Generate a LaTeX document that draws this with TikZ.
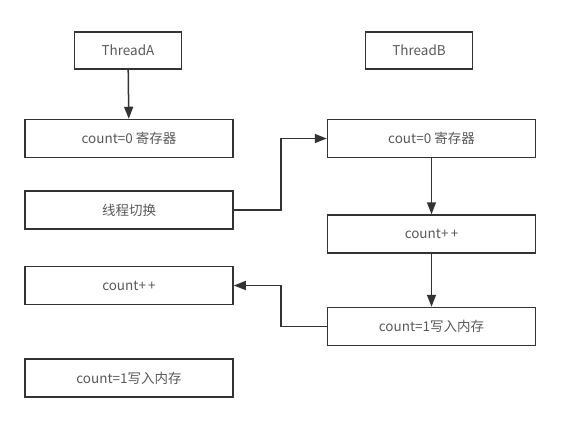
\documentclass[tikz,border=0pt]{standalone}
\usepackage{fontspec}
\setmainfont{Noto Sans CJK SC}
\usetikzlibrary{arrows.meta,positioning}

\begin{document}
\begin{tikzpicture}[x=1pt,y=1pt]

      \tikzstyle{stepbox}=[rectangle,draw=black!80,line width=1.5pt,
        minimum width=208pt,minimum height=38pt,
        text centered,text=black!65,font=\fontsize{13.5}{15}\selectfont]
      \tikzstyle{threadbox}=[stepbox,minimum width=107pt,minimum height=37pt]
      \tikzstyle{flow}=[line width=1.5pt,draw=black!80,
        -{Triangle[length=12pt,width=9pt]}]

      \useasboundingbox (0,0) rectangle (565,-421);

      \node(ThreadA)[threadbox] at (128,-50.5){ThreadA};
      \node(CountA)[stepbox,below =49pt of ThreadA,
        xshift=1pt]{count=0 寄存器};
      \node(SwitchA)[stepbox,below =32pt of CountA]{线程切换};
      \node(IncA)[stepbox,below =36pt of SwitchA]{count+\,+};
      \node(WriteA)[stepbox,below =53pt of IncA]{count=1写入内存};

      \node(CountB)[stepbox,right =93pt of CountA]{cout=0 寄存器};
      \node(ThreadB)[threadbox,above =49pt of CountB,
        xshift=-12.5pt]{ThreadB};
      \node(IncB)[stepbox,below =56pt of CountB]{count+\,+};
      \node(WriteB)[stepbox,below =53pt of IncB]{count=1写入内存};

      \draw [flow]
      (ThreadA)--(CountA);
      \draw [flow]
      (SwitchA.east)--++(47,0)|-(CountB.west);
      \draw [flow]
      (CountB)--(IncB);
      \draw [flow]
      (IncB)--(WriteB);
      \draw [flow]
      (WriteB.west)--++(-46,0)|-(IncA.east);

    \end{tikzpicture}
\end{document}
